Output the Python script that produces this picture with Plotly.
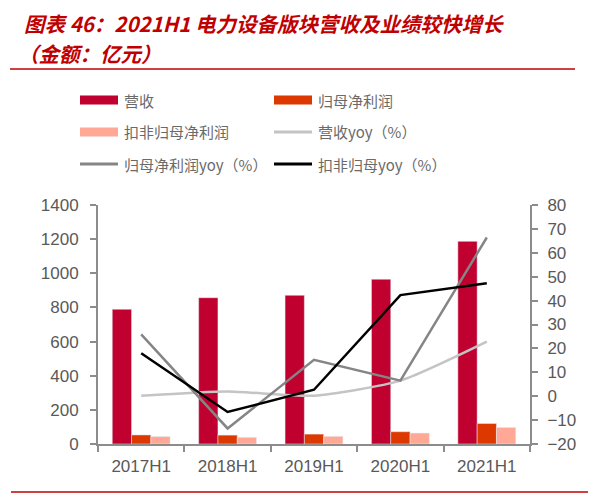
import plotly.graph_objects as go

PERIODS = ["2017H1", "2018H1", "2019H1", "2020H1", "2021H1"]
REVENUE = [789, 857, 871, 965, 1187]
NET_PROFIT = [53, 52, 58, 72, 120]
NET_PROFIT_ADJ = [44, 39, 45, 64, 97]
REVENUE_YOY = [0.2, 2.0, 0.2, 6.5, 22.8]
NET_PROFIT_YOY = [25.9, -13.5, 15.2, 6.5, 66.4]
NET_PROFIT_ADJ_YOY = [18.0, -6.6, 2.7, 42.3, 47.3]

# page has an 8px body margin, so the figure is drawn 8px smaller
OFF = 8
W, H = 590, 494
ML, MR, MT, MB = 90, 68, 197, 58
PW, PH = W - ML - MR, H - MT - MB

def px(x):
    # screen pixel -> paper fraction
    return (x - OFF - ML) / PW

def py(y):
    return (H - MB - (y - OFF)) / PH

C_REV, C_NP, C_NPA = "#C0002F", "#DC3800", "#FFA895"
C_L1, C_L2, C_L3 = "#C4C4C4", "#858585", "#000000"
TXT = "#595959"

fig = go.Figure()
fig.add_bar(x=PERIODS, y=REVENUE, name="营收", marker_color=C_REV)
fig.add_bar(x=PERIODS, y=NET_PROFIT, name="归母净利润", marker_color=C_NP)
fig.add_bar(x=PERIODS, y=NET_PROFIT_ADJ, name="扣非归母净利润", marker_color=C_NPA)
fig.add_scatter(x=PERIODS, y=REVENUE_YOY, name="营收yoy（%）", mode="lines",
                line=dict(color=C_L1, width=2.5, shape="spline", smoothing=0.6), yaxis="y2")
fig.add_scatter(x=PERIODS, y=NET_PROFIT_YOY, name="归母净利润yoy（%）", mode="lines",
                line=dict(color=C_L2, width=2.5), yaxis="y2")
fig.add_scatter(x=PERIODS, y=NET_PROFIT_ADJ_YOY, name="扣非归母yoy（%）", mode="lines",
                line=dict(color=C_L3, width=2.5), yaxis="y2")

axis_font = dict(family="Liberation Sans, Arial", size=17, color=TXT)
ax = dict(showline=True, linecolor="#8c8c8c", linewidth=2, ticks="outside", ticklen=6,
          tickcolor="#8c8c8c", tickwidth=2, tickfont=axis_font, showgrid=False)
fig.update_layout(
    width=W, height=H,
    margin=dict(l=ML, r=MR, t=MT, b=MB),
    plot_bgcolor="white", paper_bgcolor="white",
    barmode="group", bargap=0.33, bargroupgap=0,
    showlegend=False,
    xaxis=dict(type="category", tickson="boundaries", ticklabelstandoff=6, **ax),
    yaxis=dict(range=[0, 1400], dtick=200, zeroline=False, ticklabelstandoff=8, **ax),
    yaxis2=dict(range=[-20, 80], dtick=10, overlaying="y", side="right",
                zeroline=False, ticklabelstandoff=6, **ax),
)

# title
title_font = dict(family="Noto Sans CJK SC", size=20.5, color="#C00000", weight="bold", style="italic")
fig.add_annotation(text="图表 46：2021H1 电力设备版块营收及业绩较快增长", x=px(22), y=py(23),
                   xref="paper", yref="paper", xanchor="left", yanchor="middle",
                   showarrow=False, font=title_font)
fig.add_annotation(text="（金额：亿元）", x=px(16), y=py(53),
                   xref="paper", yref="paper", xanchor="left", yanchor="middle",
                   showarrow=False, font=title_font)
fig.add_shape(type="line", xref="paper", yref="paper", x0=px(10), x1=px(575),
              y0=py(69), y1=py(69), line=dict(color="#C00000", width=1.5))
fig.add_shape(type="line", xref="paper", yref="paper", x0=px(11), x1=px(588),
              y0=py(492), y1=py(492), line=dict(color="#C00000", width=1.5))

# legend drawn by hand: two columns, three rows
legend_items = [
    ("营收", C_REV, "bar", 80, 100),
    ("归母净利润", C_NP, "bar", 274, 100),
    ("扣非归母净利润", C_NPA, "bar", 80, 132),
    ("营收yoy（%）", C_L1, "line", 274, 132),
    ("归母净利润yoy（%）", C_L2, "line", 80, 164),
    ("扣非归母yoy（%）", C_L3, "line", 274, 164),
]
for label, color, kind, x0, yc in legend_items:
    if kind == "bar":
        fig.add_shape(type="rect", xref="paper", yref="paper", x0=px(x0), x1=px(x0 + 38),
                      y0=py(yc + 4.5), y1=py(yc - 4.5), fillcolor=color, line_width=0)
    else:
        fig.add_shape(type="line", xref="paper", yref="paper", x0=px(x0), x1=px(x0 + 38),
                      y0=py(yc), y1=py(yc), line=dict(color=color, width=3))
    fig.add_annotation(text=label, x=px(x0 + 42), y=py(yc), xref="paper", yref="paper",
                       xanchor="left", yanchor="middle", showarrow=False,
                       font=dict(family="Noto Sans CJK SC", size=15, color="#6a6a6a"))

fig.write_html("out.html")
